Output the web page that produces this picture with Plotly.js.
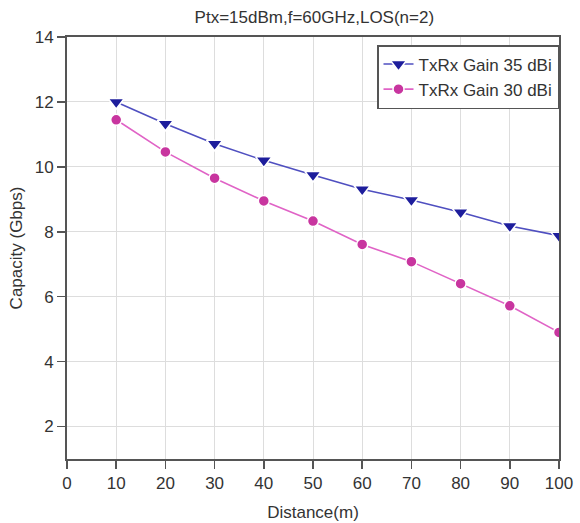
<!DOCTYPE html>
<html>
<head>
<meta charset="utf-8">
<script src="https://cdn.plot.ly/plotly-3.0.1.min.js"></script>
<style>
  html, body { margin: 0; padding: 0; background: #fff; }
  #chart { width: 580px; height: 523px; }
</style>
</head>
<body>
<div id="chart"></div>
<script>
// Link distance in metres
const distance = [10, 20, 30, 40, 50, 60, 70, 80, 90, 100];
// Capacity (Gbps) for each antenna gain
const gain35 = [12.0, 11.33, 10.71, 10.2, 9.75, 9.31, 8.98, 8.6, 8.18, 7.88];
const gain30 = [11.45, 10.46, 9.65, 8.95, 8.33, 7.61, 7.08, 6.4, 5.72, 4.9];
const seriesNames = ['TxRx Gain 35 dBi', 'TxRx Gain 30 dBi'];
const xTicks = [0, 10, 20, 30, 40, 50, 60, 70, 80, 90, 100];
const yTicks = [2, 4, 6, 8, 10, 12, 14];

const fontFamily = 'Arial, "Liberation Sans", sans-serif';
const ink = '#333333';

const traces = [
  {
    x: distance, y: gain35, name: seriesNames[0],
    mode: 'lines+markers', type: 'scatter',
    line: { color: '#4f4fc0', width: 1.6 },
    marker: { symbol: 'triangle-down', size: 14, color: '#1e1e9c',
              line: { color: '#ffffff', width: 1.5 } }
  },
  {
    x: distance, y: gain30, name: seriesNames[1],
    mode: 'lines+markers', type: 'scatter',
    line: { color: '#e063c6', width: 1.6 },
    marker: { symbol: 'circle', size: 11, color: '#c8359f',
              line: { color: '#ffffff', width: 1.5 } }
  }
];

const axisCommon = {
  showline: true, linecolor: '#555555', linewidth: 2, mirror: true,
  ticks: 'outside', ticklen: 8, tickwidth: 1.5, tickcolor: '#555555',
  showgrid: true, gridcolor: '#dddddd', gridwidth: 1,
  zeroline: false,
  tickfont: { family: fontFamily, size: 17, color: ink }
};

const layout = {
  width: 580, height: 523,
  margin: { l: 67, r: 21, t: 37, b: 64 },
  paper_bgcolor: '#ffffff', plot_bgcolor: '#ffffff',
  font: { family: fontFamily, color: ink },
  title: {
    text: 'Ptx=15dBm,f=60GHz,LOS(n=2)',
    font: { family: fontFamily, size: 17, color: ink },
    x: 0.542, xanchor: 'center', y: 0.967, yanchor: 'middle'
  },
  xaxis: Object.assign({}, axisCommon, {
    range: [0, 100], tickvals: xTicks,
    title: { text: 'Distance(m)', font: { family: fontFamily, size: 17, color: ink }, standoff: 14 }
  }),
  yaxis: Object.assign({}, axisCommon, {
    range: [1, 14], tickvals: yTicks,
    title: { text: 'Capacity (Gbps)', font: { family: fontFamily, size: 17, color: ink }, standoff: 8 }
  }),
  legend: {
    x: 1, xanchor: 'right', y: 0.981, yanchor: 'top',
    bgcolor: '#ffffff', bordercolor: '#555555', borderwidth: 1.5,
    font: { family: fontFamily, size: 17, color: ink },
    tracegroupgap: 0
  },
  showlegend: true
};

Plotly.newPlot('chart', traces, layout, { displayModeBar: false, staticPlot: true });
</script>
</body>
</html>
